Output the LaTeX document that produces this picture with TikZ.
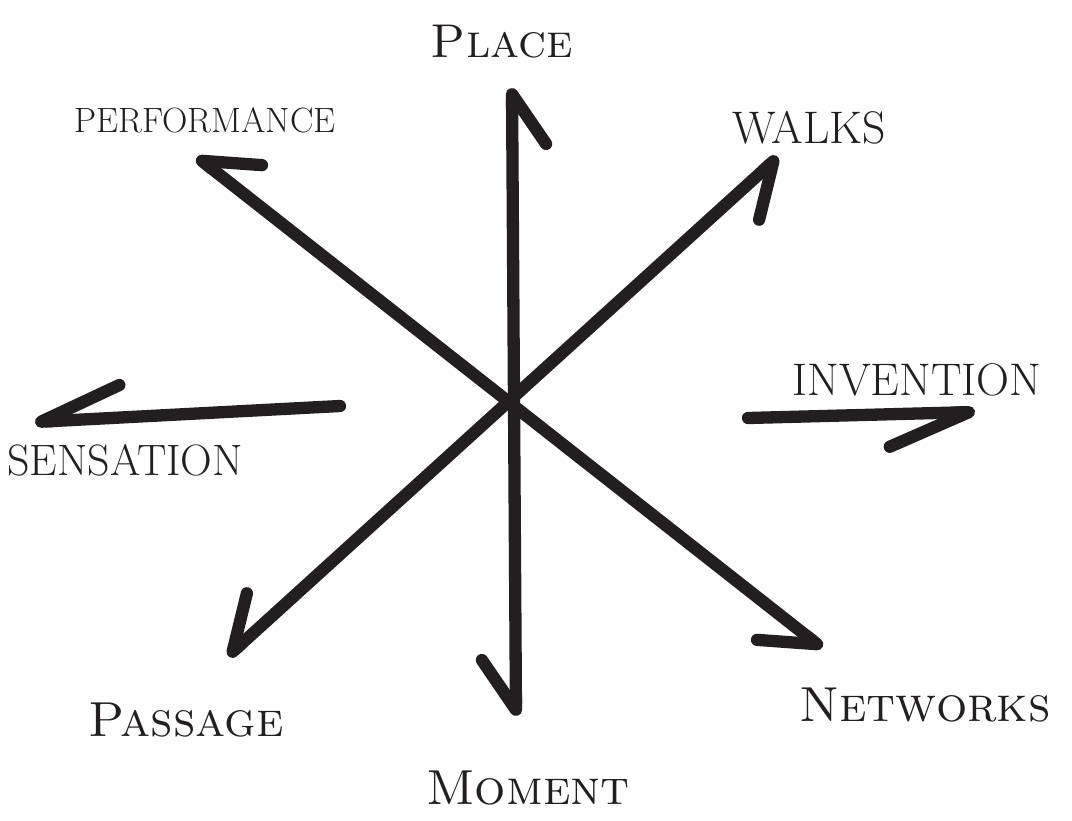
\documentclass[tikz,border=0pt]{standalone}
\usepackage{xcolor}
\definecolor{inkcolor}{HTML}{231F20}
\usepackage{tikz}
\usetikzlibrary{arrows.meta}
\tikzset{
    stroke/.style={
        draw=inkcolor,
        line width=7pt,
        line cap=round,
        line join=round,
    },
    barb/.style={
        stroke,
        -{Straight Barb[right,round,length=1.6cm,width=1.3cm]},
    },
    twobarb/.style={
        stroke,
        {Straight Barb[right,round,length=1.0cm,width=1.35cm]}-{Straight Barb[right,round,length=1.0cm,width=1.35cm]},
    },
    word/.style={
        text=inkcolor,
        font=\fontsize{26}{28}\selectfont,
        inner sep=0pt,
    },
}

\begin{document}
\begin{tikzpicture}[x=0.02cm, y=-0.02cm]
    \useasboundingbox (0,0) rectangle (1072,821);

    % labels
    \node[word, font=\fontsize{27}{29}\selectfont] (place) at (502,42) {\textsc{Place}};
    \node[word, font=\fontsize{20}{22}\selectfont] (performance) at (205,120) {PERFORMANCE};
    \node[word] (walks) at (809,128) {WALKS};
    \node[word] (invention) at (917,380) {INVENTION};
    \node[word, font=\fontsize{25}{27}\selectfont] (sensation) at (125,460) {SENSATION};
    \node[word, font=\fontsize{28}{30}\selectfont] (passage) at (186,720) {\textsc{Passage}};
    \node[word, font=\fontsize{28}{30}\selectfont] (moment) at (528,788) {\textsc{Moment}};
    \node[word, font=\fontsize{28}{30}\selectfont] (networks) at (925,705) {\textsc{Networks}};

    % arrow ends
    \coordinate (placetip) at (512,88);
    \coordinate (momenttip) at (516,716);
    \coordinate (performancetip) at (197,157);
    \coordinate (networkstip) at (822,648);
    \coordinate (walkstip) at (778,157);
    \coordinate (passagetip) at (228,656);
    \coordinate (sensationtail) at (340,406);
    \coordinate (sensationtip) at (35,422);
    \coordinate (inventiontail) at (748,418);
    \coordinate (inventiontip) at (975,412);

    \draw[twobarb] (placetip) -- (momenttip);
    \draw[twobarb] (performancetip) -- (networkstip);
    \draw[twobarb] (walkstip) -- (passagetip);
    \draw[barb] (sensationtail) -- (sensationtip);
    \draw[barb] (inventiontail) -- (inventiontip);
\end{tikzpicture}
\end{document}
